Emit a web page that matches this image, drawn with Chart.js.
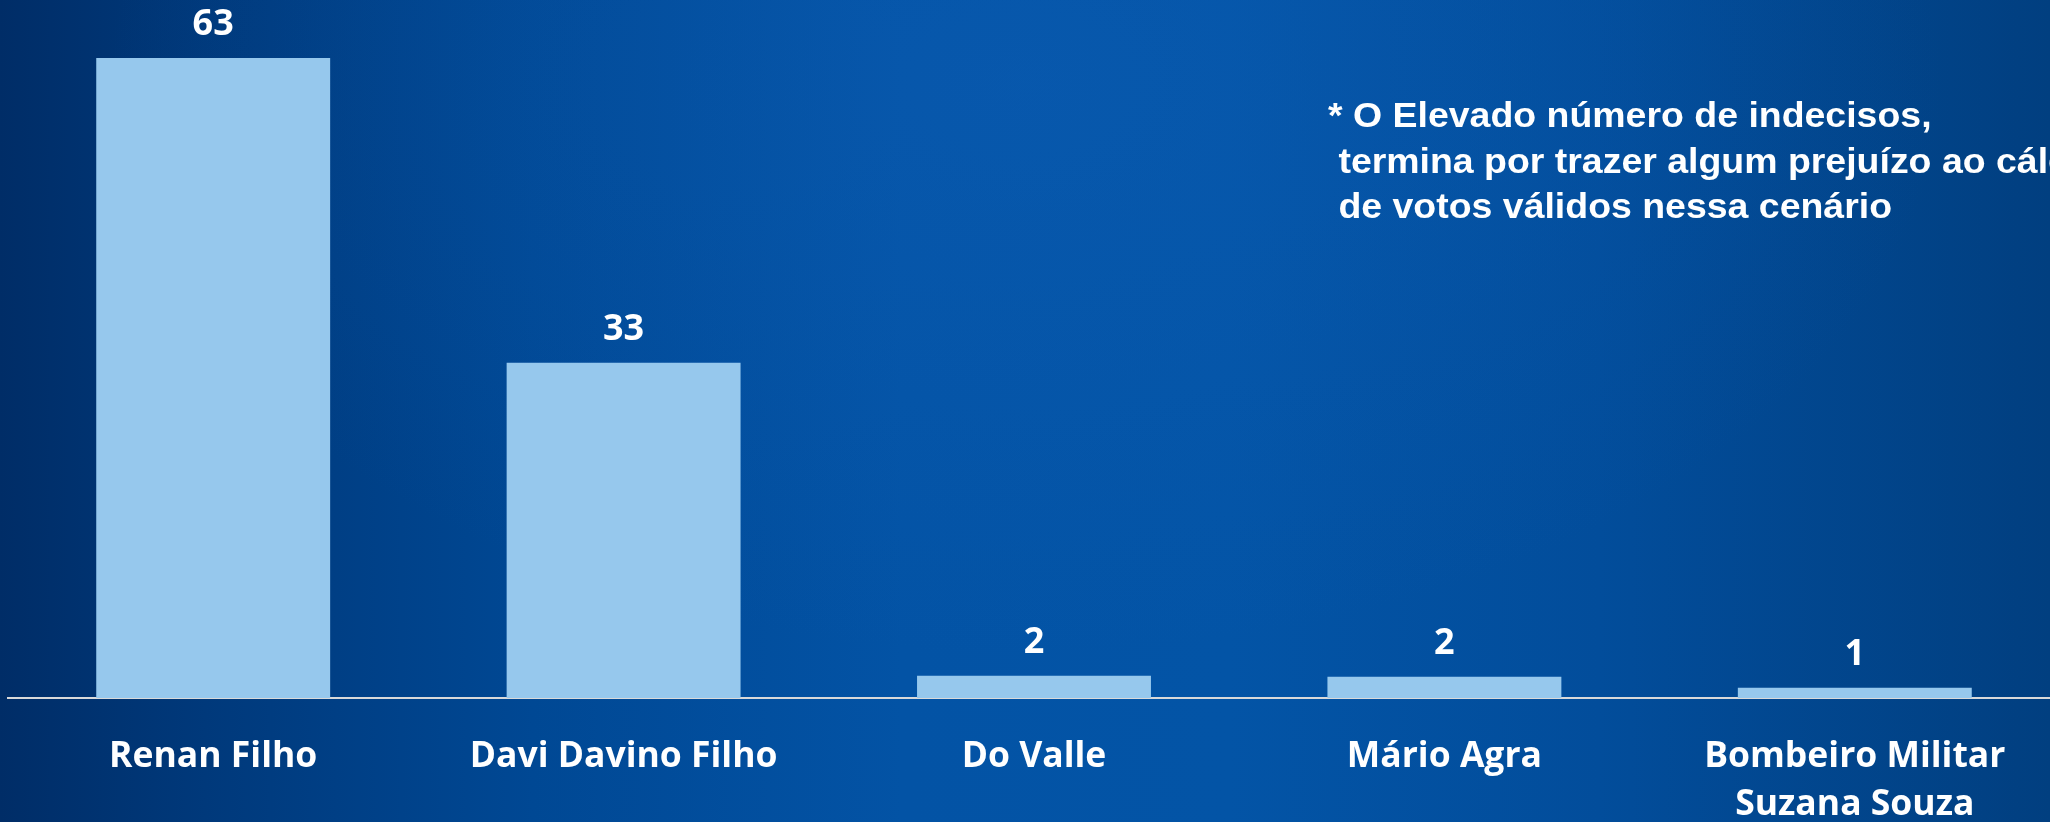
<!DOCTYPE html>
<html>
<head>
<meta charset="utf-8">
<script src="https://cdn.jsdelivr.net/npm/chart.js@4.4.0/dist/chart.umd.min.js"></script>
<style>
  html, body { margin: 0; padding: 0; width: 2050px; height: 822px; overflow: hidden; }
  body {
    background:
      radial-gradient(ellipse 45% 70% at 50% 10%, rgba(18, 98, 188, 0.3), rgba(18, 98, 188, 0) 100%),
      linear-gradient(90deg, #002d67 0%, #00397b 10%, #004894 26%, #0353a5 44%, #0354a6 60%, #024d9b 78%, #013f80 100%);
  }
  canvas { display: block; }
</style>
</head>
<body>
<canvas id="myChart" width="2070" height="822"></canvas>
<script>
const categories = ['Renan Filho', 'Davi Davino Filho', 'Do Valle', 'Mário Agra', ['Bombeiro Militar', 'Suzana Souza']]
const votes = [63, 33, 2.2, 2.1, 1]
const noteLines = ['* O Elevado número de indecisos,', ' termina por trazer algum prejuízo ao cálculo', ' de votos válidos nessa cenário']

const valueLabels = {
  id: 'valueLabels',
  afterDatasetsDraw(chart) {
    const ctx = chart.ctx
    const meta = chart.getDatasetMeta(0)
    ctx.save()
    ctx.fillStyle = '#ffffff'
    ctx.font = 'bold 36px "Open Sans"'
    ctx.textAlign = 'center'
    ctx.textBaseline = 'alphabetic'
    meta.data.forEach((bar, i) => {
      ctx.fillText(String(Math.round(votes[i])), bar.x, bar.y - 23)
    })
    ctx.restore()
  }
}

const note = {
  id: 'note',
  afterDraw(chart) {
    const ctx = chart.ctx
    ctx.save()
    ctx.fillStyle = '#ffffff'
    ctx.font = 'bold 35px "Liberation Sans"'
    ctx.textAlign = 'left'
    ctx.textBaseline = 'alphabetic'
    ctx.translate(1328, 0)
    ctx.scale(1.07, 1)
    noteLines.forEach((line, i) => {
      ctx.fillText(line, 0, 127 + i * 45.5)
    })
    ctx.restore()
  }
}

Promise.all([
  document.fonts.load('bold 36px "Open Sans"'),
  document.fonts.load('bold 35px "Liberation Sans"')
]).finally(() => {
  const ctx = document.getElementById('myChart').getContext('2d')
  new Chart(ctx, {
    type: 'bar',
    data: {
      labels: categories,
      datasets: [
        {
          data: votes,
          backgroundColor: '#96c8ed',
          borderWidth: 0,
          categoryPercentage: 1,
          barPercentage: 0.57,
        },
      ],
    },
    options: {
      responsive: false,
      animation: false,
      layout: { padding: { left: 8, right: 10, top: 0, bottom: 0 } },
      plugins: { legend: { display: false }, tooltip: { enabled: false } },
      scales: {
        y: { display: false, min: 0, max: 68.7 },
        x: {
          grid: { display: false, drawTicks: false },
          border: { display: true, color: '#d9d9d9', width: 2 },
          ticks: {
            color: '#ffffff',
            padding: 35,
            maxRotation: 0,
            autoSkip: false,
            font: { family: '"Open Sans"', size: 35.5, weight: 'bold', lineHeight: '48px' },
          },
          afterFit(scale) { scale.height = 124 },
        },
      },
    },
    plugins: [valueLabels, note],
  })
})
</script>
</body>
</html>
